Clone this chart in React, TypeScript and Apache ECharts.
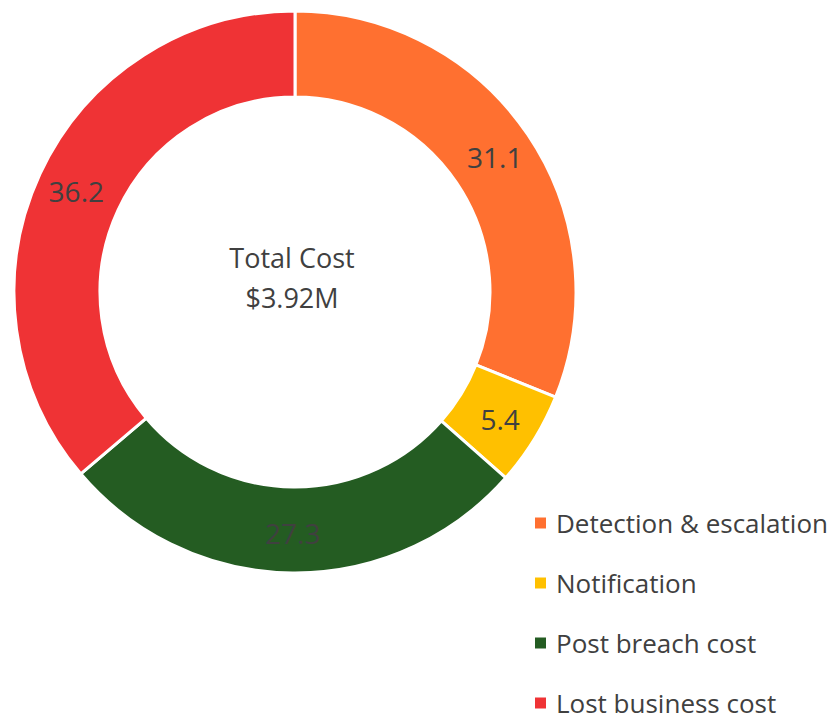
import React, { useEffect, useRef } from "react";
import * as echarts from "echarts";

const categories = ["Detection & escalation", "Notification", "Post breach cost", "Lost business cost"];
const values = [31.1, 5.4, 27.3, 36.2];
const colors = ["#FF7030", "#FFC000", "#245C22", "#EF3335"];
const centerLines = ["Total Cost", "$3.92M"];

export default function App() {
  const ref = useRef<HTMLDivElement>(null);
  useEffect(() => {
    document.body.style.margin = "0";
    const chart = echarts.init(ref.current!, null, { renderer: "svg" });
    const font = "'Open Sans', 'Liberation Sans', sans-serif";
    chart.setOption({
      animation: false,
      color: colors,
      legend: {
        orient: "vertical",
        left: 533,
        top: 510,
        height: 260,
        padding: 0,
        itemWidth: 13,
        itemHeight: 13,
        itemGap: 34,
        icon: "rect",
        textStyle: { fontSize: 26, color: "#404040", fontFamily: font, padding: [0, 0, 0, 4] },
        data: categories,
      },
      graphic: [
        {
          type: "text",
          x: 292,
          y: 277,
          style: {
            text: centerLines.join("\n"),
            fontSize: 27,
            lineHeight: 40,
            fill: "#404040",
            fontFamily: font,
            align: "center",
            verticalAlign: "middle",
          },
        },
      ],
      series: [
        {
          type: "pie",
          center: [295, 292],
          radius: [195, 281],
          startAngle: 90,
          clockwise: true,
          itemStyle: { borderColor: "#fff", borderWidth: 3 },
          label: {
            show: true,
            position: "inside",
            formatter: "{c}",
            fontSize: 28,
            color: "#404040",
            fontFamily: font,
          },
          labelLine: { show: false },
          emphasis: { disabled: true },
          data: categories.map((name, i) => ({ name, value: values[i] })),
        },
      ],
    });
    return () => chart.dispose();
  }, []);
  return <div ref={ref} style={{ width: 835, height: 713 }} />;
}
